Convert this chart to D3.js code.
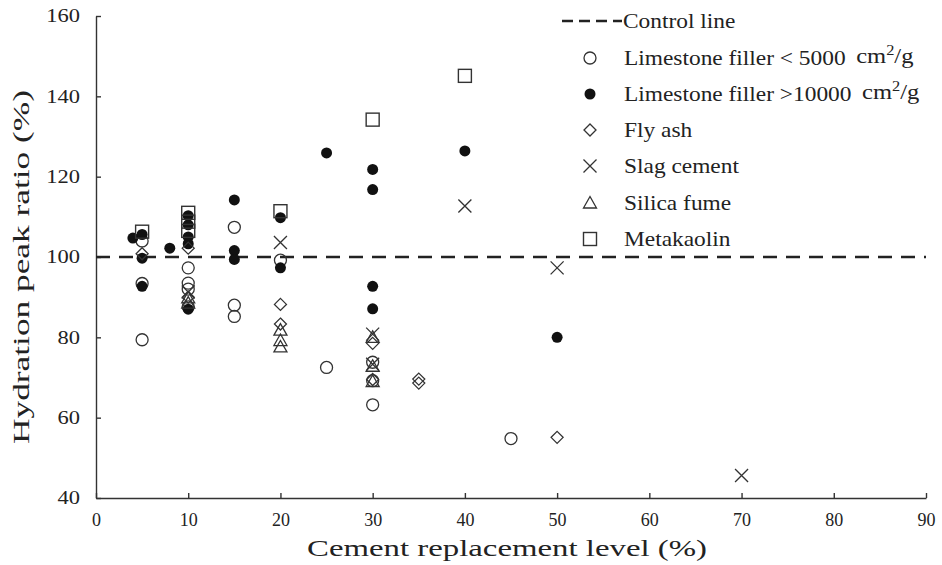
<!DOCTYPE html>
<html>
<head>
<meta charset="utf-8">
<script src="https://cdn.jsdelivr.net/npm/d3@7/dist/d3.min.js"></script>
<style>
  html, body { margin: 0; padding: 0; background: #fff; }
  svg { display: block; }
  text { font-family: "Liberation Serif", "DejaVu Serif", serif; fill: #222; }
</style>
</head>
<body>
<svg id="chart" width="942" height="565"></svg>
<script>
// ---------- data ----------
const xTicks = [0, 10, 20, 30, 40, 50, 60, 70, 80, 90];
const yTicks = [40, 60, 80, 100, 120, 140, 160];
const controlValue = 100;

const limestoneCoarse = [[5,104],[5,93.4],[5,79.4],[10,97.3],[10,93.5],[10,92],[10,87.6],[15,107.4],[15,88],[15,85.2],[20,99.2],[25,72.5],[30,73.8],[30,69.2],[30,63.2],[45,54.8]];
const limestoneFine = [[4,104.7],[5,105.6],[5,99.7],[5,92.7],[8,102.2],[10,110.3],[10,108],[10,105],[10,103.3],[10,87],[15,114.2],[15,101.6],[15,99.4],[20,109.8],[20,97.3],[25,125.9],[30,121.8],[30,116.8],[30,92.7],[30,87.1],[40,126.4],[50,80]];
const flyAsh = [[5,100.8],[10,102.2],[10,90],[20,88.2],[20,83.3],[30,78.5],[30,69.5],[35,69.6],[35,68.6],[50,55.1]];
const slagCement = [[10,91.3],[20,103.6],[30,80.8],[30,73.3],[40,112.7],[50,97.3],[70,45.6]];
const silicaFume = [[10,89.8],[10,88.5],[20,81.8],[20,79.2],[20,77.6],[30,80],[30,72.8],[30,69]];
const metakaolin = [[5,106.3],[10,111],[10,108.8],[10,106.5],[20,111.4],[30,134.2],[40,145.1]];

const series = [
  { name: "Limestone filler < 5000", unit: true, shape: "circle", data: limestoneCoarse },
  { name: "Limestone filler >10000", unit: true, shape: "dot", data: limestoneFine },
  { name: "Fly ash", shape: "diamond", data: flyAsh },
  { name: "Slag cement", shape: "cross", data: slagCement },
  { name: "Silica fume", shape: "triangle", data: silicaFume },
  { name: "Metakaolin", shape: "square", data: metakaolin }
];

// ---------- layout ----------
const svg = d3.select("#chart");
const L = 96, R = 926, T = 16, B = 498;
const x = d3.scaleLinear().domain([0, 90]).range([L, R]);
const y = d3.scaleLinear().domain([40, 160]).range([B, T]);

const axisColor = "#333";

// axes
const xAxis = svg.append("g").attr("transform", `translate(0,${B})`)
  .call(d3.axisBottom(x).tickValues(xTicks).tickSizeInner(-5).tickSizeOuter(0).tickPadding(15));
const yAxis = svg.append("g").attr("transform", `translate(${L},0)`)
  .call(d3.axisLeft(y).tickValues(yTicks).tickSizeInner(-5).tickSizeOuter(0).tickPadding(14));
[xAxis, yAxis].forEach(g => {
  g.select(".domain").attr("stroke", axisColor).attr("stroke-width", 1.4);
  g.selectAll(".tick line").attr("stroke", axisColor).attr("stroke-width", 1.4);
  g.selectAll(".tick text").style("font-family", '"Liberation Serif", serif').attr("fill", "#222");
});
xAxis.selectAll(".tick text").style("font-size", "18px");
const ySx = 1.25;
yAxis.selectAll(".tick text").style("font-size", "18px")
  .attr("x", -16 / ySx).attr("transform", `scale(${ySx},1)`);

// axis titles
svg.append("text").attr("x", (L + R) / 2 - 4).attr("y", 556).attr("text-anchor", "middle")
  .attr("textLength", 400).attr("lengthAdjust", "spacingAndGlyphs")
  .style("font-size", "24px").text("Cement replacement level (%)");
svg.append("text").attr("transform", `translate(29,${267}) rotate(-90)`).attr("text-anchor", "middle")
  .attr("textLength", 354).attr("lengthAdjust", "spacingAndGlyphs")
  .style("font-size", "24px").text("Hydration peak ratio (%)");

// control line
svg.append("line").attr("x1", x(0)).attr("x2", x(90)).attr("y1", y(controlValue)).attr("y2", y(controlValue))
  .attr("stroke", "#222").attr("stroke-width", 2.6).attr("stroke-dasharray", "14,9");

// marker drawing
const stroke = "#333";
function drawMarker(g, shape, cx, cy) {
  switch (shape) {
    case "circle":
      g.append("circle").attr("cx", cx).attr("cy", cy).attr("r", 6).attr("fill", "none").attr("stroke", stroke).attr("stroke-width", 1.3);
      break;
    case "dot":
      g.append("circle").attr("cx", cx).attr("cy", cy).attr("r", 5.5).attr("fill", "#111");
      break;
    case "diamond":
      g.append("path").attr("d", `M${cx},${cy-6}L${cx+6},${cy}L${cx},${cy+6}L${cx-6},${cy}Z`).attr("fill", "none").attr("stroke", stroke).attr("stroke-width", 1.3);
      break;
    case "cross":
      g.append("path").attr("d", `M${cx-6.5},${cy-6.5}L${cx+6.5},${cy+6.5}M${cx-6.5},${cy+6.5}L${cx+6.5},${cy-6.5}`).attr("fill", "none").attr("stroke", stroke).attr("stroke-width", 1.3);
      break;
    case "triangle":
      g.append("path").attr("d", `M${cx},${cy-6.5}L${cx+6.5},${cy+5}L${cx-6.5},${cy+5}Z`).attr("fill", "none").attr("stroke", stroke).attr("stroke-width", 1.3);
      break;
    case "square":
      g.append("rect").attr("x", cx - 6.5).attr("y", cy - 6.5).attr("width", 13).attr("height", 13).attr("fill", "none").attr("stroke", stroke).attr("stroke-width", 1.4);
      break;
  }
}

const marks = svg.append("g");
series.forEach(s => {
  const g = marks.append("g").attr("class", "series");
  s.data.forEach(d => drawMarker(g, s.shape, x(d[0]), y(d[1])));
});

// legend
const legSx = 1.17;
const leg = svg.append("g");
leg.append("line").attr("x1", 562).attr("x2", 622).attr("y1", 21).attr("y2", 21)
  .attr("stroke", "#222").attr("stroke-width", 2.6).attr("stroke-dasharray", "11,6");
leg.append("text").attr("transform", `translate(623,28) scale(${legSx},1)`).style("font-size", "20px").text("Control line");
const rowY = [58, 94, 130, 166, 203, 239];
series.forEach((s, i) => {
  const yy = rowY[i];
  drawMarker(leg, s.shape, 590, yy);
  const t = leg.append("text").attr("transform", `translate(624,${yy + 7}) scale(${legSx},1)`).style("font-size", "20px");
  t.append("tspan").text(s.name);
  if (s.unit) {
    t.append("tspan").attr("dx", 9).attr("dy", -2).style("font-size", "21px").text("cm");
    t.append("tspan").attr("dy", -8).style("font-size", "14px").text("2");
    t.append("tspan").attr("dy", 8).style("font-size", "21px").text("/g");
  }
});
</script>
</body>
</html>
